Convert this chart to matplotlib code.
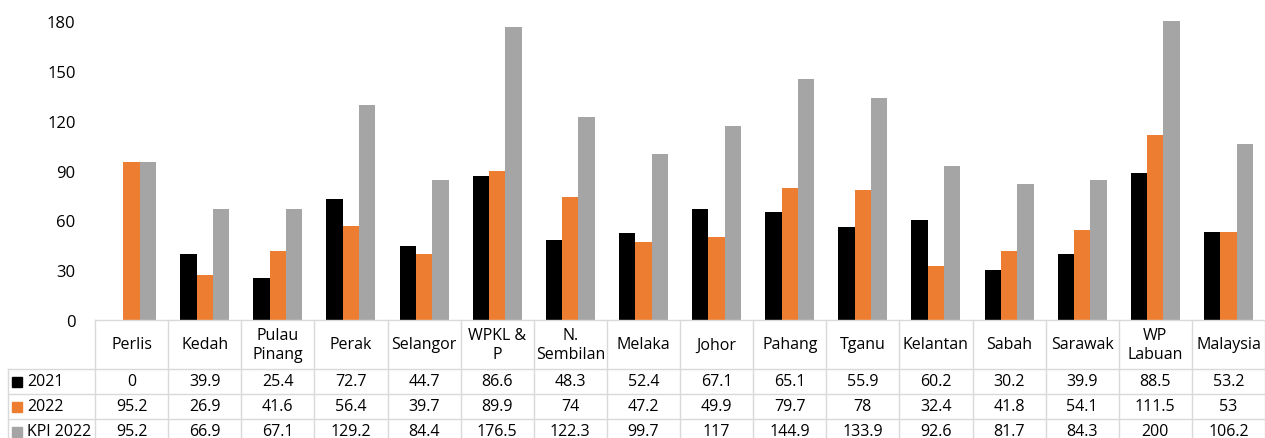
import numpy as np
import matplotlib.pyplot as plt
from matplotlib.patches import Rectangle

states = ['Perlis', 'Kedah', 'Pulau\nPinang', 'Perak', 'Selangor', 'WPKL &\nP',
          'N.\nSembilan', 'Melaka', 'Johor', 'Pahang', 'Tganu', 'Kelantan',
          'Sabah', 'Sarawak', 'WP\nLabuan', 'Malaysia']
v2021 = [0, 39.9, 25.4, 72.7, 44.7, 86.6, 48.3, 52.4, 67.1, 65.1, 55.9, 60.2, 30.2, 39.9, 88.5, 53.2]
v2022 = [95.2, 26.9, 41.6, 56.4, 39.7, 89.9, 74, 47.2, 49.9, 79.7, 78, 32.4, 41.8, 54.1, 111.5, 53]
kpi2022 = [95.2, 66.9, 67.1, 129.2, 84.4, 176.5, 122.3, 99.7, 117, 144.9, 133.9, 92.6, 81.7, 84.3, 200, 106.2]
series_names = ['2021', '2022', 'KPI 2022']
colors = ['#000000', '#ED7D31', '#A5A5A5']
yticks = [0, 30, 60, 90, 120, 150, 180]

plt.rcParams['font.family'] = ['Open Sans', 'DejaVu Sans']

W, H = 1265, 439
fig = plt.figure(figsize=(W / 100, H / 100), dpi=100)

x0, x1 = 95, 1265
y_top, y_zero = 22, 321
ax = fig.add_axes([x0 / W, (H - y_zero) / H, (x1 - x0) / W, (y_zero - y_top) / H])

x = np.arange(len(states))
bw = 0.223
series = [v2021, v2022, kpi2022]
for i, (vals, c) in enumerate(zip(series, colors)):
    ax.bar(x + (i - 1) * bw, vals, bw, color=c, edgecolor='none')

ax.set_xlim(-0.5, len(states) - 0.5)
ax.set_ylim(0, 180)
ax.set_yticks(yticks)
ax.set_xticks([])
ax.tick_params(axis='y', length=0, pad=14, labelsize=12)
for s in ax.spines.values():
    s.set_visible(False)

# data table below the chart
row_h = [49, 25, 25, 25]
tbl_h = sum(row_h)
tax = fig.add_axes([x0 / W, (H - y_zero - tbl_h) / H, (x1 - x0) / W, tbl_h / H])
tax.set_xlim(-0.5, len(states) - 0.5)
tax.set_ylim(tbl_h, 0)
tax.axis('off')

col_px = (x1 - x0) / len(states)
left_x = -0.5 - (x0 - 8) / col_px
grid_c = '#D9D9D9'
edges = np.cumsum([0] + row_h)
fs = 11.5

# horizontal lines
tax.plot([-0.5, len(states) - 0.5], [0, 0], color=grid_c, lw=1, clip_on=False)
for yy in edges[1:]:
    tax.plot([left_x, len(states) - 0.5], [yy, yy], color=grid_c, lw=1, clip_on=False)
# vertical lines
for i in range(len(states) + 1):
    tax.plot([i - 0.5, i - 0.5], [0, tbl_h], color=grid_c, lw=1, clip_on=False)
tax.plot([left_x, left_x], [edges[1], tbl_h], color=grid_c, lw=1, clip_on=False)

for i, name in enumerate(states):
    tax.text(i, row_h[0] / 2, name, ha='center', va='center', fontsize=fs,
             linespacing=1.3, clip_on=False)

sq_w = 10 / col_px
for r, (name, vals, c) in enumerate(zip(series_names, series, colors)):
    yc = (edges[r + 1] + edges[r + 2]) / 2
    tax.add_patch(Rectangle((left_x + 4 / col_px, yc - 5), sq_w, 10, color=c, clip_on=False))
    tax.text(left_x + 19 / col_px, yc, name, ha='left', va='center', fontsize=fs, clip_on=False)
    for i, v in enumerate(vals):
        tax.text(i, yc, f'{v:g}', ha='center', va='center', fontsize=fs, clip_on=False)

fig.savefig('out.png', dpi=100)
